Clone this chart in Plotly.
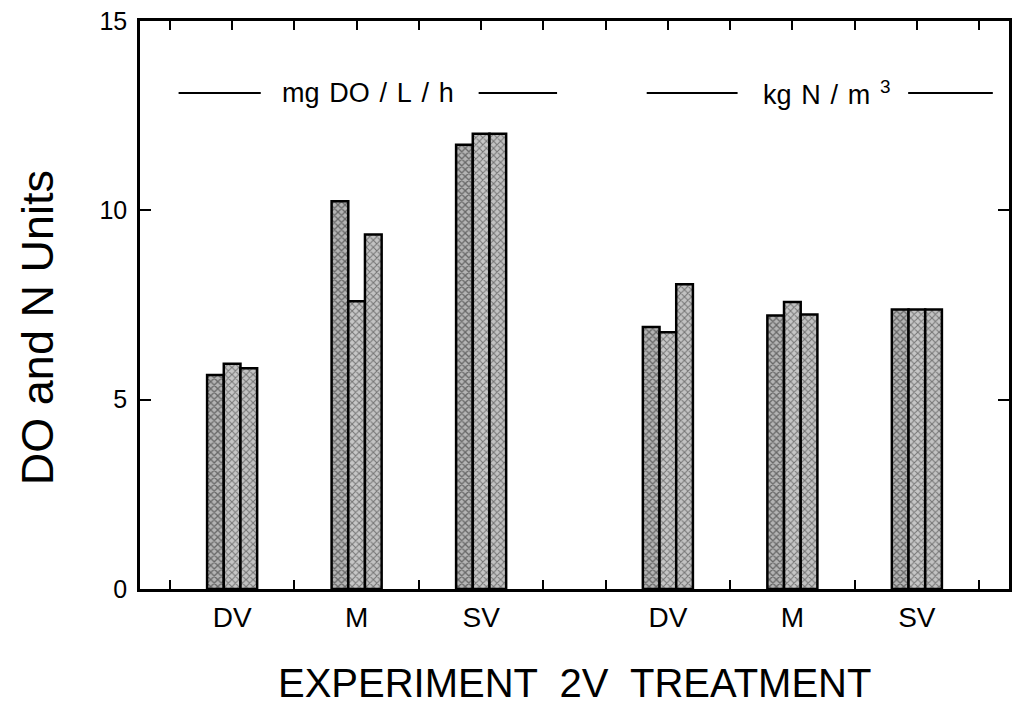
import plotly.graph_objects as go

# Treatments within each measurement block
treatments = ["DV", "M", "SV"]

# Three replicate bars per treatment, dissolved-oxygen uptake (mg DO / L / h)
do_rep1 = [5.65, 10.24, 11.73]
do_rep2 = [5.95, 7.60, 12.02]
do_rep3 = [5.83, 9.36, 12.02]

# Three replicate bars per treatment, nitrogen load (kg N / m^3)
n_rep1 = [6.92, 7.22, 7.38]
n_rep2 = [6.78, 7.58, 7.38]
n_rep3 = [8.05, 7.25, 7.38]

SP = "\u00a0\u200a"  # slightly widened word gap for the block headers
header_do = SP.join(["mg", "DO", "/", "L", "/", "h"])
header_n = SP.join(["kg", "N", "/", "m", "<sup>3</sup>"])

x_title = "EXPERIMENT  2V  TREATMENT"
y_title = "DO and N Units"

# Slot layout on the numeric x axis: first block centred on 0.5, 1.5, 2.5,
# second block centred on 4, 5, 6.
do_centres = [i + 0.5 for i in range(len(treatments))]
n_centres = [i + 4.0 for i in range(len(treatments))]
centres = do_centres + n_centres

bar_w = 0.134
offsets = [-1.5 * bar_w, -0.5 * bar_w, 0.5 * bar_w]

reps = [do_rep1 + n_rep1, do_rep2 + n_rep2, do_rep3 + n_rep3]
fills = [
    dict(shape="x", fgcolor="#1a1a1a", bgcolor="#b4b4b4", size=5, solidity=0.45),
    dict(shape="x", fgcolor="#262626", bgcolor="#c6c6c6", size=5, solidity=0.38),
    dict(shape="x", fgcolor="#262626", bgcolor="#c2c2c2", size=5, solidity=0.38),
]
# the last replicate sits on the top (tick-only) x axis, which shares the range
axes = ["x", "x", "x2"]

fig = go.Figure()
for vals, off, pat, ax in zip(reps, offsets, fills, axes):
    fig.add_trace(go.Bar(
        x=centres, y=vals, width=bar_w, offset=off, xaxis=ax,
        marker=dict(color="#c0c0c0", pattern=pat,
                    line=dict(color="black", width=2.5)),
        showlegend=False, hoverinfo="skip",
    ))

font_family = "Liberation Sans, Arial, Helvetica, sans-serif"

# Boundary ticks along the bottom axis
bottom_ticks = [0, 1, 2, 3, 3.5, 4.5, 5.5, 6.5]
# Half-slot ticks along the top axis
top_ticks = [k * 0.5 for k in range(14)]

xr = [-0.24, 6.74]

fig.update_layout(
    width=1017, height=714,
    margin=dict(l=140, r=5, t=21, b=125),
    paper_bgcolor="white", plot_bgcolor="white",
    barmode="overlay",
    font=dict(family=font_family, color="black"),
    xaxis=dict(
        range=xr, tickmode="array", tickvals=centres,
        ticktext=treatments + treatments,
        ticks="", showgrid=False, zeroline=False,
        showline=True, linecolor="black", linewidth=2.5, mirror=True,
        tickfont=dict(size=28), ticklabelstandoff=2,
        minor=dict(tickmode="array", tickvals=bottom_ticks, ticks="inside",
                   ticklen=9, tickwidth=2, tickcolor="black", showgrid=False),
    ),
    xaxis2=dict(
        range=xr, overlaying="x", side="top", anchor="y",
        tickmode="array", tickvals=top_ticks, ticks="inside",
        ticklen=9, tickwidth=2, tickcolor="black",
        showticklabels=False, showgrid=False, zeroline=False, showline=False,
    ),
    yaxis=dict(
        range=[0, 15], tickmode="array", tickvals=[0, 5, 10, 15],
        ticks="inside", ticklen=11, tickwidth=2, tickcolor="black",
        showgrid=False, zeroline=False,
        showline=True, linecolor="black", linewidth=2.5, mirror="ticks",
        tickfont=dict(size=25), ticklabelstandoff=5,
    ),
)

# Block headers with rules on either side
header_y = 13.1
for x0, x1 in [(0.07, 0.73), (2.48, 3.11), (3.83, 4.56), (5.93, 6.61)]:
    fig.add_shape(type="line", xref="x", yref="y", x0=x0, x1=x1,
                  y0=header_y, y1=header_y,
                  line=dict(color="black", width=2))

fig.add_annotation(x=1.594, y=header_y, xref="x", yref="y", text=header_do,
                   showarrow=False, font=dict(size=27), xanchor="center",
                   yanchor="middle")
fig.add_annotation(x=5.278, y=header_y, xref="x", yref="y", text=header_n,
                   showarrow=False, font=dict(size=27), xanchor="center",
                   yanchor="middle")

# Axis titles
fig.add_annotation(x=0.5, y=-0.165, xref="paper", yref="paper", text=x_title,
                   showarrow=False, font=dict(size=40), xanchor="center",
                   yanchor="middle")
fig.add_annotation(x=-0.118, y=0.46, xref="paper", yref="paper", text=y_title,
                   showarrow=False, font=dict(size=45), textangle=-90,
                   xanchor="center", yanchor="middle")

fig.write_html("out.html")
